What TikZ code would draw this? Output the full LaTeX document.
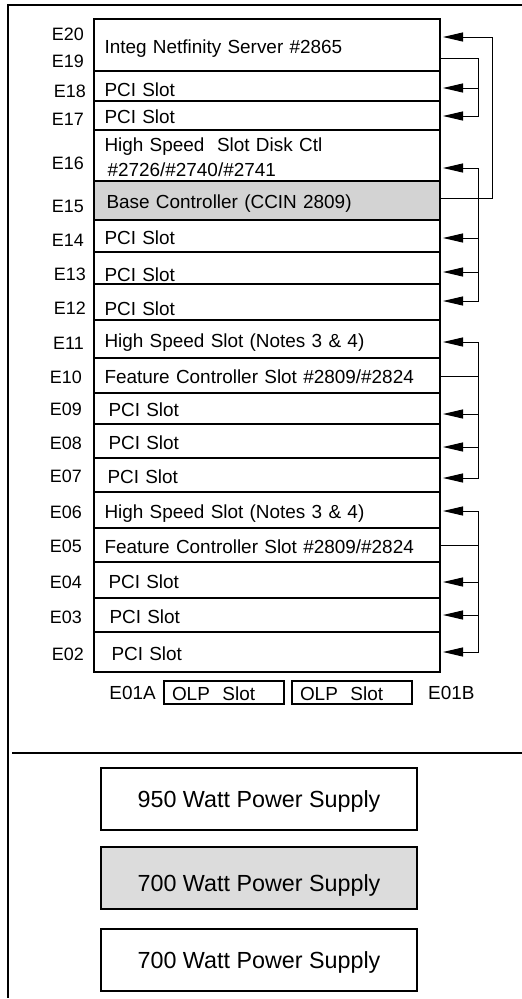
\documentclass[tikz,border=0pt]{standalone}
\usepackage{fontspec}
\setmainfont{Liberation Sans}
\usetikzlibrary{positioning,arrows.meta}
\definecolor{basegrey}{HTML}{D3D3D3}
\definecolor{psgrey}{HTML}{DCDCDC}
\newcommand\slotfont{\fontsize{19}{23}\selectfont}
\newcommand\tagfont{\fontsize{18}{22}\selectfont}
\newcommand\supplyfont{\fontsize{23.4}{28}\selectfont}

\begin{document}
\begin{tikzpicture}[x=1bp, y=-1bp,
  slotrow/.style={draw, line width=1.3bp, minimum width=346bp,
    inner xsep=10.5bp, inner ysep=0pt, outer sep=0pt, text width=325bp,
    align=left, font=\slotfont, text height=16.6bp, text depth=0bp},
  slottag/.style={font=\tagfont, inner sep=0pt, anchor=base east},
  olpbox/.style={draw, line width=1.2bp, minimum width=120bp, minimum height=23bp,
    inner xsep=8bp, inner ysep=0pt, outer sep=0pt, text width=104bp,
    align=left, font=\slotfont, text height=16.6bp, text depth=0bp},
  supply/.style={draw, line width=1.3bp, minimum width=316bp, minimum height=62bp,
    inner sep=0pt, outer sep=0pt, font=\supplyfont, text height=16.75bp, text depth=0bp},
  wire/.style={line width=1bp},
  feed/.style={wire, -{Triangle[length=20bp,width=9bp]}, shorten >=3bp},
  feedtwo/.style={wire, {Triangle[length=20bp,width=9bp]}-{Triangle[length=20bp,width=9bp]},
    shorten >=3bp, shorten <=3bp},
  frame/.style={line width=1.3bp}]
  \useasboundingbox (0,0) rectangle (522,999);

  \draw[frame] (522,5) -- (8,5) -- (8,998);
  \draw[frame] (12,753) -- (522,753);

  \node[slotrow, anchor=north west, minimum height=52bp] (r20) at (94,19) {Integ Netfinity Server \#2865};
  \node[slotrow, minimum height=30bp, text height=20.6bp, below=0pt of r20] (r18) {PCI Slot};
  \node[slotrow, minimum height=29bp, below=0pt of r18] (r17) {PCI Slot};
  \node[slotrow, minimum height=51bp, text height=13.6bp, text depth=21bp, below=0pt of r17] (r16)
    {High Speed\ \ Slot Disk Ctl\\[2bp]\hspace*{3bp}\#2726/\#2740/\#2741};
  \node[slotrow, minimum height=39bp, fill=basegrey, below=0pt of r16] (r15) {\hspace*{2bp}Base Controller (CCIN 2809)};
  \node[slotrow, minimum height=32bp, below=0pt of r15] (r14) {PCI Slot};
  \node[slotrow, minimum height=32bp, text height=27.6bp, below=0pt of r14] (r13) {PCI Slot};
  \node[slotrow, minimum height=36bp, text height=27.6bp, below=0pt of r13] (r12) {PCI Slot};
  \node[slotrow, minimum height=38bp, below=0pt of r12] (r11) {High Speed Slot (Notes 3 \& 4)};
  \node[slotrow, minimum height=35bp, below=0pt of r11] (r10) {Feature Controller Slot \#2809/\#2824};
  \node[slotrow, minimum height=31bp, below=0pt of r10] (r09) {\hspace*{4bp}PCI Slot};
  \node[slotrow, minimum height=34bp, below=0pt of r09] (r08) {\hspace*{4bp}PCI Slot};
  \node[slotrow, minimum height=34bp, below=0pt of r08] (r07) {\hspace*{3bp}PCI Slot};
  \node[slotrow, minimum height=36bp, below=0pt of r07] (r06) {High Speed Slot (Notes 3 \& 4)};
  \node[slotrow, minimum height=34bp, below=0pt of r06] (r05) {Feature Controller Slot \#2809/\#2824};
  \node[slotrow, minimum height=36bp, below=0pt of r05] (r04) {\hspace*{4bp}PCI Slot};
  \node[slotrow, minimum height=34bp, below=0pt of r04] (r03) {\hspace*{5bp}PCI Slot};
  \node[slotrow, minimum height=40bp, below=0pt of r03] (r02) {\hspace*{7bp}PCI Slot};

  \node[slottag] (l20) at (84,40) {E20};
  \node[slottag] (l19) at (84,67) {E19};
  \node[slottag] (l18) at (86,97) {E18};
  \node[slottag] (l17) at (84,125) {E17};
  \node[slottag] (l16) at (84,169) {E16};
  \node[slottag] (l15) at (84,212) {E15};
  \node[slottag] (l14) at (84,246) {E14};
  \node[slottag] (l13) at (86,280) {E13};
  \node[slottag] (l12) at (86,314) {E12};
  \node[slottag] (l11) at (84,349) {E11};
  \node[slottag] (l10) at (82,383) {E10};
  \node[slottag] (l09) at (82,415) {E09};
  \node[slottag] (l08) at (82,449) {E08};
  \node[slottag] (l07) at (82,482) {E07};
  \node[slottag] (l06) at (82,518) {E06};
  \node[slottag] (l05) at (82,552) {E05};
  \node[slottag] (l04) at (82,588) {E04};
  \node[slottag] (l03) at (82,623) {E03};
  \node[slottag] (l02) at (84,660) {E02};

  \node[olpbox, anchor=north west] (olpa) at (164,681) {OLP\ \ Slot};
  \node[olpbox, right=8bp of olpa] (olpb) {OLP\ \ Slot};
  \node[font=\slotfont, inner sep=0pt, left=8bp of olpa] (l01a) {E01A};
  \node[font=\slotfont, inner sep=0pt, right=16bp of olpb] (l01b) {E01B};

  \node[supply, anchor=north west] (psa) at (101,768) {950 Watt Power Supply};
  \node[supply, fill=psgrey, text height=26.75bp, below=17bp of psa] (psb) {700 Watt Power Supply};
  \node[supply, below=20bp of psb] (psc) {700 Watt Power Supply};

  \coordinate (j20) at (492,37);
  \coordinate (j15) at (492,198);
  \coordinate (j19) at (478,58);
  \coordinate (j18) at (478,88);
  \coordinate (j17) at (478,116);
  \coordinate (j16) at (478,168);
  \coordinate (j14) at (478,238);
  \coordinate (j13) at (478,272);
  \coordinate (j12) at (478,301);
  \coordinate (j11) at (478,342);
  \coordinate (j10) at (478,376);
  \coordinate (j09) at (478,414);
  \coordinate (j08) at (478,447);
  \coordinate (j07) at (478,478);
  \coordinate (j06) at (478,511);
  \coordinate (j05) at (478,545);
  \coordinate (j04) at (478,582);
  \coordinate (j03) at (478,615);
  \coordinate (j02) at (478,652);

  \draw[feed] (r15.east |- j15) -- (j15) -- (j20) -- (r20.east |- j20);

  \draw[feed] (r20.east |- j19) -- (j19) -- (j17) -- (r17.east |- j17);
  \draw[feed] (j18) -- (r18.east |- j18);

  \draw[feedtwo] (r16.east |- j16) -- (j16) -- (j12) -- (r12.east |- j12);
  \draw[feed] (j14) -- (r14.east |- j14);
  \draw[feed] (j13) -- (r13.east |- j13);

  \draw[feedtwo] (r11.east |- j11) -- (j11) -- (j07) -- (r07.east |- j07);
  \draw[wire] (r10.east |- j10) -- (j10);
  \draw[feed] (j09) -- (r09.east |- j09);
  \draw[feed] (j08) -- (r08.east |- j08);

  \draw[feedtwo] (r06.east |- j06) -- (j06) -- (j02) -- (r02.east |- j02);
  \draw[wire] (r05.east |- j05) -- (j05);
  \draw[feed] (j04) -- (r04.east |- j04);
  \draw[feed] (j03) -- (r03.east |- j03);
\end{tikzpicture}
\end{document}
